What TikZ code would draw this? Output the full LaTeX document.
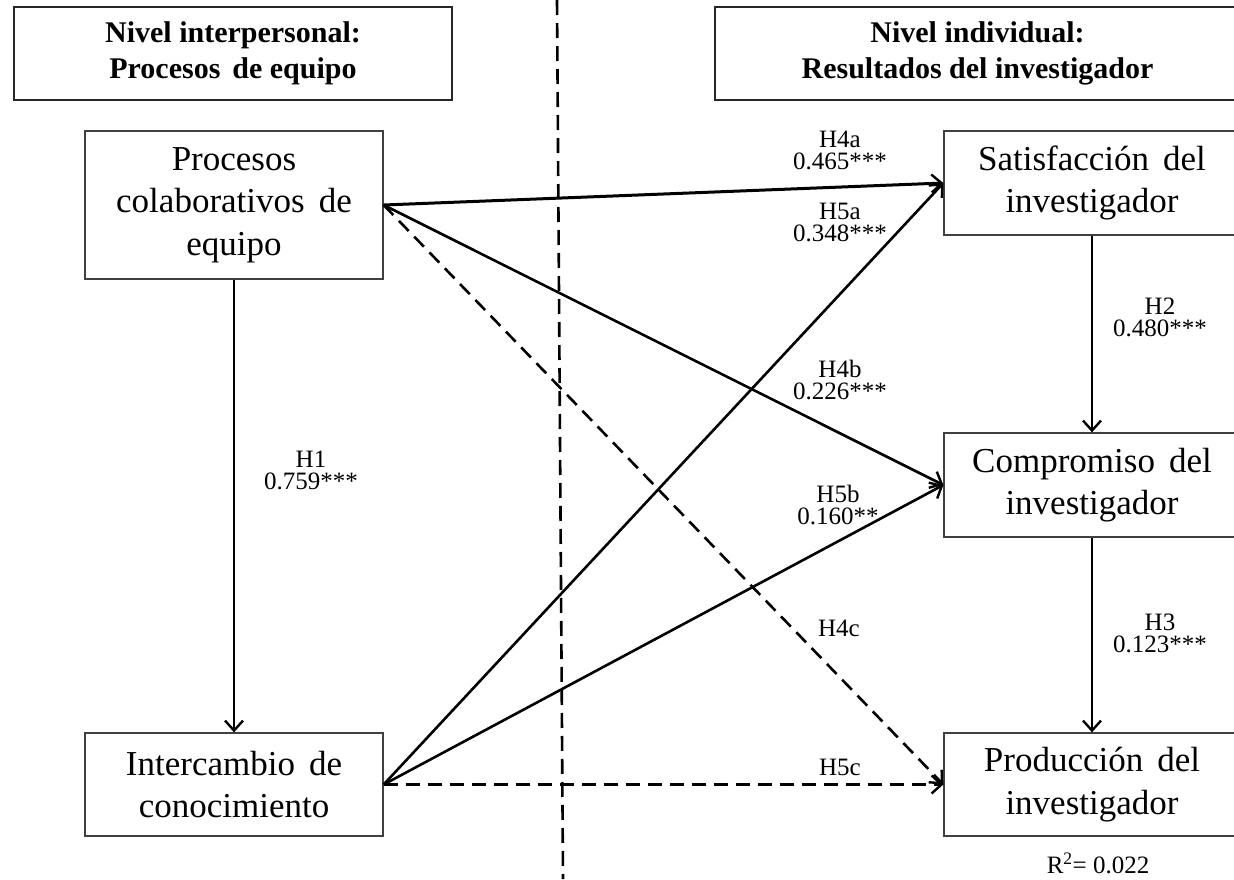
\documentclass[tikz,border=0pt]{standalone}
\usepackage{fontspec}
\setmainfont{Liberation Serif}
\usetikzlibrary{arrows.meta}
\newcommand{\wgap}{\hspace{0.4em}}
\begin{document}
\begin{tikzpicture}[x=1pt,y=-1pt,
  box/.style={draw=black!75, line width=1.3pt, align=center, inner sep=0pt, font=\fontsize{35}{42.5}\selectfont},
  hdr/.style={draw=black!85, line width=1.8pt, align=center, inner sep=0pt, font=\fontsize{30}{36}\selectfont\bfseries},
  lab/.style={align=center, inner sep=0pt, font=\fontsize{25}{22}\selectfont},
  arr/.style={line width=2.6pt, -{Straight Barb[length=10pt,width=18pt,line width=2.4pt]}},
  darr/.style={arr, dash pattern=on 14pt off 8pt},
  sep/.style={line width=2.6pt, dash pattern=on 15pt off 8pt}]
\useasboundingbox (0,0) rectangle (1234,879);

% headers
\node[hdr, minimum width=438pt, minimum height=93pt] (hl) at (233,53.5) {Nivel interpersonal:\\Procesos\wgap de equipo};
\node[hdr, minimum width=525pt, minimum height=93pt] (hr) at (977.5,53.5) {Nivel individual:\\Resultados del investigador};

% separator
\coordinate (st) at (557,0);
\coordinate (sb) at (563,879);
\draw[sep] (st) -- (sb);

% boxes
\node[box, minimum width=298pt, minimum height=148pt] (pc) at (234,205) {Procesos\\colaborativos\wgap de\\equipo};
\node[box, minimum width=298pt, minimum height=103pt] (ic) at (234,784.5) {Intercambio\wgap de\\conocimiento};
\node[box, minimum width=296pt, minimum height=104pt] (sat) at (1092,183) {Satisfacción\wgap del\\investigador};
\node[box, minimum width=296pt, minimum height=104pt] (com) at (1092,485) {Compromiso\wgap del\\investigador};
\node[box, minimum width=296pt, minimum height=103pt] (pro) at (1092,784.5) {Producción\wgap del\\investigador};

% arrows
\draw[arr] (pc.south) -- (ic.north);
\draw[arr] (sat.south) -- (com.north);
\draw[arr] (com.south) -- (pro.north);
\draw[arr, line width=3pt] (pc.east) -- (sat.west);
\draw[arr] (pc.east) -- (com.west);
\draw[darr] (pc.east) -- (pro.west);
\draw[arr] (ic.east) -- (sat.west);
\draw[arr] (ic.east) -- (com.west);
\draw[darr] (ic.east) -- (pro.west);

% labels
\node[lab] (l1) at (311,470) {H1\\0.759***};
\node[lab] (l2) at (1160,317) {H2\\0.480***};
\node[lab] (l3) at (1160,633) {H3\\0.123***};
\node[lab] (l4a) at (840,150) {H4a\\0.465***};
\node[lab] (l5a) at (840,222) {H5a\\0.348***};
\node[lab] (l4b) at (840,380) {H4b\\0.226***};
\node[lab] (l5b) at (838,505) {H5b\\0.160**};
\node[lab] (l4c) at (839,628) {H4c};
\node[lab] (l5c) at (840,767) {H5c};
\node[font=\fontsize{25}{28}\selectfont, inner sep=0pt] (r2) at (1098,863) {R\textsuperscript{2}= 0.022};
\end{tikzpicture}
\end{document}
